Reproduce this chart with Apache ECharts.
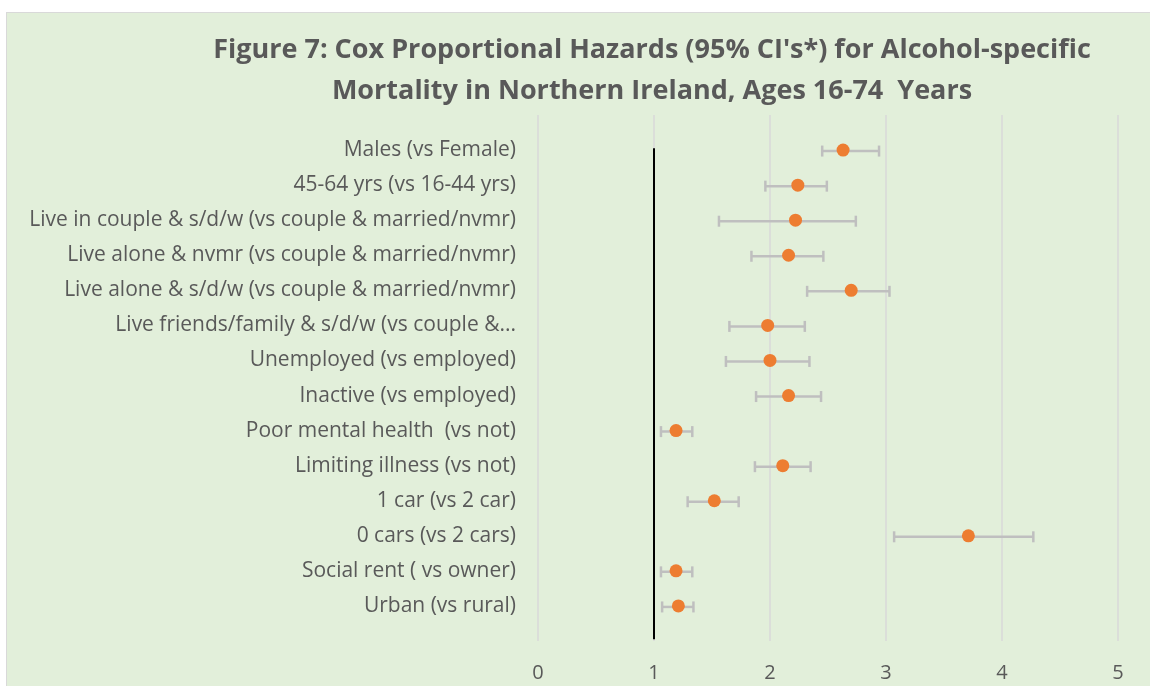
<!DOCTYPE html>
<html>
<head>
<meta charset="utf-8">
<script src="https://cdn.jsdelivr.net/npm/echarts@6/dist/echarts.min.js"></script>
<style>
  html, body { margin: 0; padding: 0; background: #ffffff; overflow: hidden; }
  #chart {
    position: absolute; left: 6px; top: 12px; width: 1144px; height: 674px;
    border-top: 1px solid #d9d9d9; border-left: 1px solid #d9d9d9;
    background: #E2EFDA;
  }
</style>
</head>
<body>
<div id="chart"></div>
<script>
// rows, top to bottom
let labels = [
  'Males (vs Female)',
  '45-64 yrs (vs 16-44 yrs)',
  'Live in couple & s/d/w (vs couple & married/nvmr)',
  'Live alone & nvmr (vs couple & married/nvmr)',
  'Live alone & s/d/w (vs couple & married/nvmr)',
  'Live friends/family & s/d/w (vs couple &...',
  'Unemployed (vs employed)',
  'Inactive (vs employed)',
  'Poor mental health  (vs not)',
  'Limiting illness (vs not)',
  '1 car (vs 2 car)',
  '0 cars (vs 2 cars)',
  'Social rent ( vs owner)',
  'Urban (vs rural)'
];
let hazard = [2.63, 2.24, 2.22, 2.16, 2.70, 1.98, 2.00, 2.16, 1.19, 2.11, 1.52, 3.71, 1.19, 1.21];
let ciLow  = [2.45, 1.96, 1.56, 1.84, 2.32, 1.65, 1.62, 1.88, 1.06, 1.87, 1.29, 3.07, 1.06, 1.07];
let ciHigh = [2.94, 2.49, 2.74, 2.46, 3.03, 2.30, 2.34, 2.44, 1.33, 2.35, 1.73, 4.27, 1.33, 1.34];
let xTicks = [0, 1, 2, 3, 4, 5];
let refLine = [[1, 0.05], [1, 14.05]];

let chartDom = document.getElementById('chart');
let chart = echarts.init(chartDom);
let option;

let n = labels.length;
// category slots for the label axis: blank at both ends, bottom row first
let catData = [''].concat(labels.slice().reverse()).concat(['']);
let pointData = hazard.map(function (v, i) { return [v, n - i]; });
let barData = ciLow.map(function (lo, i) { return [lo, ciHigh[i], n - i]; });

let labelFont = '"Open Sans", Lato, sans-serif';

option = {
  backgroundColor: 'transparent',
  title: {
    text: "Figure 7: Cox Proportional Hazards (95% CI's*) for Alcohol-specific\nMortality in Northern Ireland, Ages 16-74  Years",
    left: 640,
    top: 12,
    textAlign: 'center',
    textStyle: {
      fontFamily: labelFont,
      fontSize: 27,
      fontWeight: 'bold',
      color: '#595959',
      lineHeight: 41
    }
  },
  grid: {
    left: 531,
    right: 33,
    top: 102,
    bottom: 46
  },
  xAxis: {
    type: 'value',
    min: xTicks[0],
    max: xTicks[xTicks.length - 1],
    interval: 1,
    axisLine: { show: false },
    axisTick: { show: false },
    axisLabel: {
      margin: 22,
      fontFamily: labelFont,
      fontSize: 20,
      color: '#595959'
    },
    splitLine: {
      lineStyle: { color: '#D9D9D9', width: 1.5 }
    }
  },
  yAxis: [
    {
      type: 'category',
      data: catData,
      boundaryGap: false,
      axisLine: { show: false },
      axisTick: { show: false },
      splitLine: { show: false },
      axisLabel: {
        margin: 22,
        interval: 0,
        padding: [5, 0, 0, 0],
        fontFamily: labelFont,
        fontSize: 21,
        color: '#595959'
      }
    },
    {
      type: 'value',
      min: 0,
      max: n + 1,
      show: false
    }
  ],
  series: [
    {
      name: 'ref',
      type: 'line',
      yAxisIndex: 1,
      data: refLine,
      showSymbol: false,
      lineStyle: { color: '#000000', width: 2 },
      z: 3
    },
    {
      name: 'ci',
      type: 'custom',
      yAxisIndex: 1,
      data: barData,
      encode: { x: [0, 1], y: 2 },
      renderItem: function (params, api) {
        let y = api.value(2);
        let lo = api.coord([api.value(0), y]);
        let hi = api.coord([api.value(1), y]);
        let h = 5.5;
        let st = { stroke: '#BFBFBF', lineWidth: 2.5 };
        return {
          type: 'group',
          children: [
            { type: 'line', shape: { x1: lo[0], y1: lo[1] + 1, x2: hi[0], y2: hi[1] + 1 }, style: st },
            { type: 'line', shape: { x1: lo[0], y1: lo[1] + 1 - h, x2: lo[0], y2: lo[1] + 1 + h }, style: st },
            { type: 'line', shape: { x1: hi[0], y1: hi[1] + 1 - h, x2: hi[0], y2: hi[1] + 1 + h }, style: st }
          ]
        };
      },
      z: 4
    },
    {
      name: 'Hazard ratio',
      type: 'scatter',
      yAxisIndex: 1,
      data: pointData,
      symbolSize: 13,
      itemStyle: { color: '#ED7D31', opacity: 1 },
      z: 5
    }
  ]
};

option && chart.setOption(option);
</script>
</body>
</html>
